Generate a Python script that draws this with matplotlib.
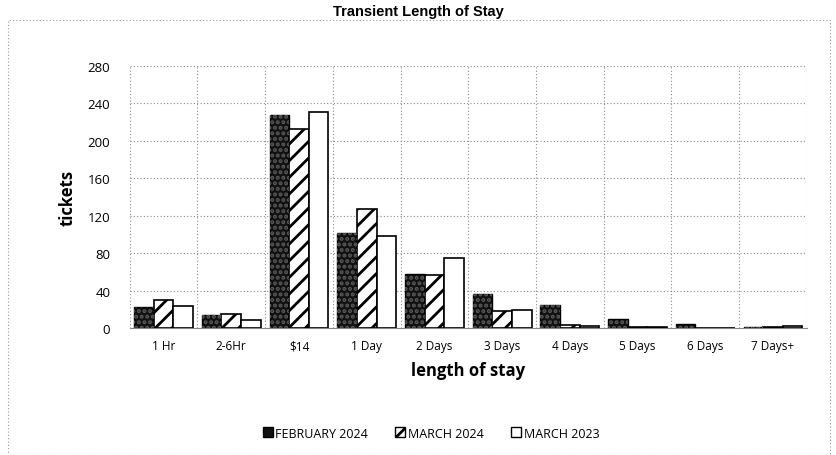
import matplotlib.pyplot as plt
from matplotlib.patches import Patch, Rectangle
import numpy as np

# --- data ---
categories = ['1 Hr', '2-6Hr', '$14', '1 Day', '2 Days', '3 Days',
              '4 Days', '5 Days', '6 Days', '7 Days+']
feb_2024 = [23, 14, 227, 101, 58, 37, 25, 10, 5, 1]
mar_2024 = [30, 15, 212, 127, 57, 18, 3, 1, 0.5, 1]
mar_2023 = [24, 9, 230, 98, 75, 19, 2, 1, 0.5, 2]
yticks = [0, 40, 80, 120, 160, 200, 240, 280]

plt.rcParams['hatch.linewidth'] = 2.0

fig = plt.figure(figsize=(8.37, 4.56), dpi=100)
ax = fig.add_axes([0.155, 0.278, 0.809, 0.576])

x = np.arange(len(categories))
w = 0.29

# february: dark fill with faint speckle
ax.bar(x - w, feb_2024, w, color='#111111', edgecolor='black', linewidth=1, zorder=3)
ax.bar(x - w, feb_2024, w, facecolor='none', edgecolor='#5a5a5a', hatch='...',
       linewidth=0, zorder=4)
ax.bar(x, mar_2024, w, color='white', edgecolor='black', hatch='//', linewidth=1.2, zorder=3)
ax.bar(x + w, mar_2023, w, color='white', edgecolor='black', linewidth=1.2, zorder=3)

ax.set_xlim(-0.5, len(categories) - 0.5)
ax.set_ylim(0, 280)
ax.set_yticks(yticks)
ax.set_xticks(x)
ax.set_xticklabels(categories, fontsize=8.5, family='Open Sans')
ax.tick_params(axis='y', labelsize=9.5, length=0, pad=14)
ax.tick_params(axis='x', length=0, pad=8)
for lab in ax.get_yticklabels():
    lab.set_family('Open Sans')

# dotted grid: horizontal at ticks, vertical at category boundaries
for yv in yticks[1:]:
    ax.axhline(yv, color='#8a8a8a', linestyle=(0, (1, 2)), linewidth=0.8, zorder=1)
for xv in np.arange(-0.5, len(categories), 1.0):
    ax.axvline(xv, color='#8a8a8a', linestyle=(0, (1, 2)), linewidth=0.8, zorder=1)

for s in ['top', 'right', 'left']:
    ax.spines[s].set_visible(False)
ax.spines['bottom'].set_color('#888888')

ax.set_ylabel('tickets', fontsize=12, fontweight='bold', family='Open Sans', labelpad=8)
ax.set_xlabel('length of stay', fontsize=12, fontweight='bold', family='Open Sans', labelpad=6)

fig.suptitle('Transient Length of Stay', x=0.5, y=0.99, fontsize=10.5,
             fontweight='bold', family='Liberation Sans')

handles = [
    Patch(facecolor='#111111', edgecolor='black', label='FEBRUARY 2024'),
    Patch(facecolor='white', edgecolor='black', hatch='//', label='MARCH 2024'),
    Patch(facecolor='white', edgecolor='black', label='MARCH 2023'),
]
fig.legend(handles=handles, loc='center', bbox_to_anchor=(0.515, 0.048), ncol=3,
           frameon=False, handlelength=0.8, handleheight=0.8,
           handletextpad=0.2, columnspacing=2.2, prop={'family': 'Open Sans', 'size': 9})

# dotted outer frame
fig.patches.append(Rectangle((0.01, 0.0), 0.982, 0.955, transform=fig.transFigure,
                             fill=False, edgecolor='#999999', linestyle=(0, (1, 2)),
                             linewidth=0.8))

fig.savefig('out.png', dpi=100)
